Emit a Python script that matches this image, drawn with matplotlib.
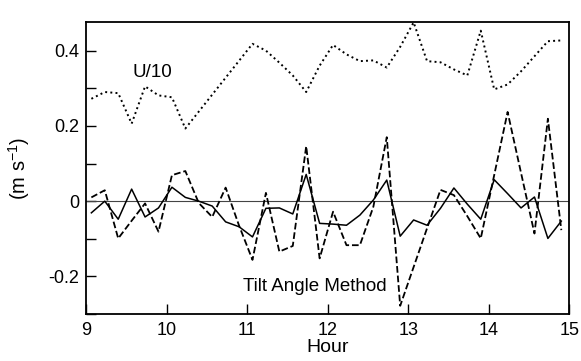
import numpy as np
import matplotlib
matplotlib.use("Agg")
import matplotlib.pyplot as plt
from matplotlib.ticker import MultipleLocator

plt.rcParams['font.family'] = ['Liberation Sans', 'DejaVu Sans']
plt.rcParams['axes.unicode_minus'] = False

# 10-minute samples, 9:04 .. 14:54
hours = 9 + 4/60 + np.arange(36) / 6

u10 = [0.272, 0.290, 0.287, 0.206, 0.305, 0.281, 0.276, 0.193, 0.238, 0.283,
       0.328, 0.373, 0.418, 0.400, 0.368, 0.334, 0.290, 0.360, 0.415, 0.390,
       0.372, 0.374, 0.355, 0.410, 0.475, 0.372, 0.369, 0.350, 0.334, 0.453,
       0.297, 0.310, 0.345, 0.385, 0.425, 0.427]

tilt = [0.010, 0.029, -0.099, -0.052, -0.006, -0.081, 0.069, 0.080, -0.005, -0.042,
        0.036, -0.065, -0.156, 0.022, -0.134, -0.119, 0.146, -0.152, -0.028, -0.117,
        -0.117, -0.015, 0.170, -0.278, -0.175, -0.072, 0.030, 0.016, -0.040, -0.099,
        0.069, 0.237, 0.075, -0.086, 0.219, -0.077]

other = [-0.031, 0.000, -0.048, 0.032, -0.042, -0.018, 0.037, 0.010, 0.000, -0.013,
         -0.055, -0.068, -0.095, -0.019, -0.018, -0.034, 0.071, -0.059, -0.061, -0.064,
         -0.037, 0.003, 0.056, -0.093, -0.050, -0.064, -0.019, 0.035, -0.008, -0.048,
         0.057, 0.020, -0.018, 0.011, -0.099, -0.053]

fig = plt.figure(figsize=(5.81, 3.61), dpi=100)
ax = fig.add_axes([0.148, 0.130, 0.832, 0.808])

ax.axhline(0, color='#444444', lw=0.8)
ax.plot(hours, u10, color='black', ls=':', lw=1.4)
ax.plot(hours, tilt, color='black', ls='--', lw=1.3)
ax.plot(hours, other, color='black', ls='-', lw=1.1)

ax.text(9.82, 0.343, 'U/10', fontsize=13.5, ha='center', va='center')
ax.text(11.84, -0.228, 'Tilt Angle Method', fontsize=13.5, ha='center', va='center')

ax.set_xlim(9, 15)
ax.set_ylim(-0.3, 0.475)
ax.set_xticks(range(9, 16))
ax.set_yticks([-0.2, 0, 0.2, 0.4], labels=['-0.2', '0', '0.2', '0.4'])
ax.yaxis.set_minor_locator(MultipleLocator(0.1))
ax.tick_params(which='both', direction='in', length=7, width=1.0, labelsize=13,
               top=False, right=False)
ax.tick_params(axis='x', pad=6)
ax.tick_params(axis='y', pad=5)
for s in ax.spines.values():
    s.set_linewidth(1.3)

ax.set_xlabel('Hour', fontsize=14, labelpad=0)
ax.set_ylabel(r'(m s$^{\mathregular{-1}}$)', fontsize=14.5, labelpad=12)

fig.savefig('out.png', dpi=100)
